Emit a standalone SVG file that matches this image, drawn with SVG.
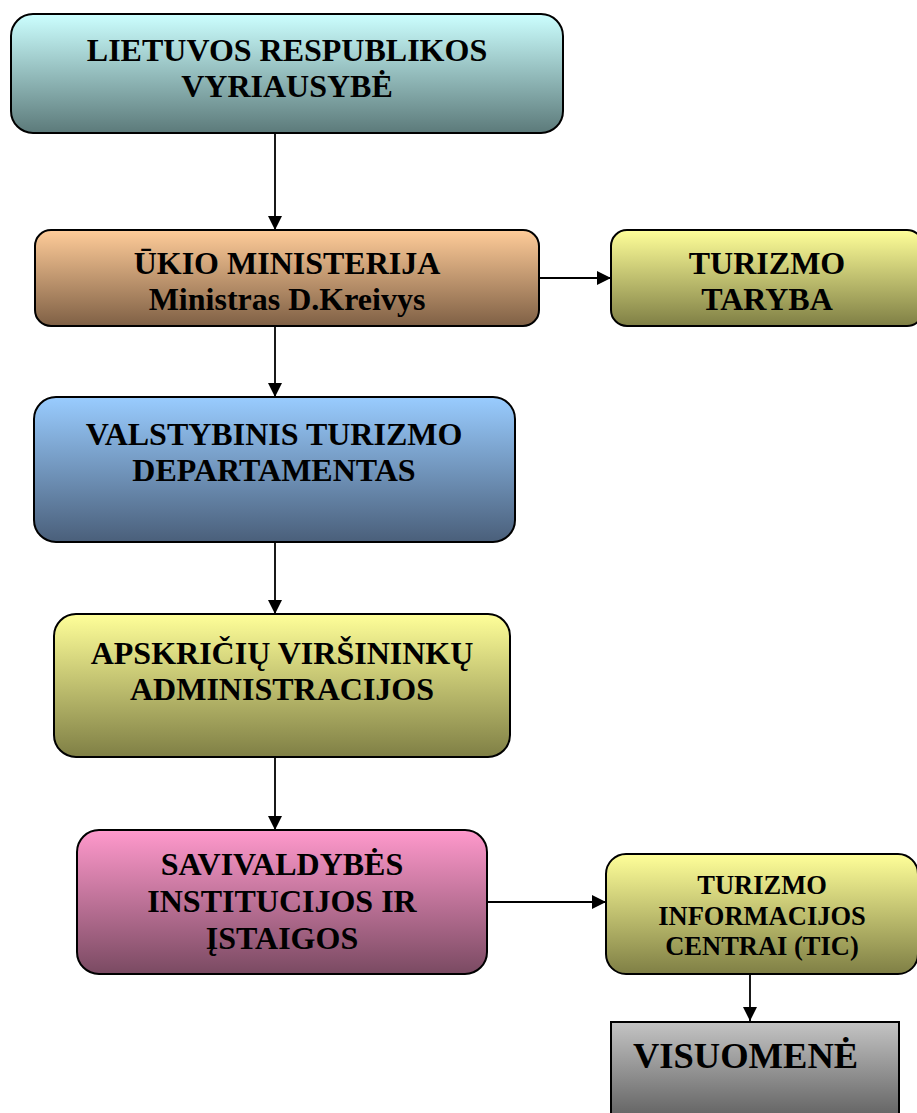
<svg xmlns="http://www.w3.org/2000/svg" width="917" height="1113" viewBox="0 0 917 1113">
<defs>
<linearGradient id="gCyan" x1="0" y1="0" x2="0" y2="1"><stop offset="0" stop-color="#CCFFFF"/><stop offset="1" stop-color="#5C7A7A"/></linearGradient>
<linearGradient id="gOrange" x1="0" y1="0" x2="0" y2="1"><stop offset="0" stop-color="#FFCC99"/><stop offset="1" stop-color="#7F6045"/></linearGradient>
<linearGradient id="gYellow" x1="0" y1="0" x2="0" y2="1"><stop offset="0" stop-color="#FFFF99"/><stop offset="1" stop-color="#7F7F45"/></linearGradient>
<linearGradient id="gBlue" x1="0" y1="0" x2="0" y2="1"><stop offset="0" stop-color="#99CCFF"/><stop offset="1" stop-color="#4A5F7A"/></linearGradient>
<linearGradient id="gPink" x1="0" y1="0" x2="0" y2="1"><stop offset="0" stop-color="#FF99CC"/><stop offset="1" stop-color="#7A4A62"/></linearGradient>
<linearGradient id="gGray" x1="0" y1="0" x2="0" y2="1"><stop offset="0" stop-color="#C4C4C4"/><stop offset="1" stop-color="#5E5E5E"/></linearGradient>
<marker id="arr" viewBox="0 0 14 14" refX="14" refY="7" markerWidth="14" markerHeight="14" markerUnits="userSpaceOnUse" orient="auto"><path d="M0,0 L14,7 L0,14 Z" fill="#000"/></marker>
<style>
.box{stroke:#000;stroke-width:2}
.t{font-family:"Liberation Serif","Times New Roman",serif;font-weight:bold;font-size:32px;fill:#000;text-anchor:middle}
.s{font-size:26.5px}
.v{font-size:36.5px;text-anchor:start}
.c{fill:none;stroke:#000;stroke-width:1.8;marker-end:url(#arr)}
</style>
</defs>
<g id="connectors">
<line class="c" x1="275" y1="134" x2="275" y2="230"/>
<line class="c" x1="539" y1="278" x2="611" y2="278"/>
<line class="c" x1="275" y1="327" x2="275" y2="397"/>
<line class="c" x1="275" y1="543" x2="275" y2="614"/>
<line class="c" x1="275" y1="757" x2="275" y2="830"/>
<line class="c" x1="487" y1="902" x2="606" y2="902"/>
<line class="c" x1="750" y1="974" x2="750" y2="1021"/>
</g>
<g id="vyriausybe">
<rect class="box" x="11" y="14" width="552" height="119" rx="22" fill="url(#gCyan)"/>
<text class="t" x="287" y="61">LIETUVOS RESPUBLIKOS</text>
<text class="t" x="287" y="97">VYRIAUSYBĖ</text>
</g>
<g id="ukio">
<rect class="box" x="35" y="230" width="504" height="96" rx="16" fill="url(#gOrange)"/>
<text class="t" x="287" y="274">ŪKIO MINISTERIJA</text>
<text class="t" x="287" y="310">Ministras D.Kreivys</text>
</g>
<g id="taryba">
<rect class="box" x="611" y="230" width="312" height="96" rx="16" fill="url(#gYellow)"/>
<text class="t" x="767" y="274">TURIZMO</text>
<text class="t" x="767" y="310">TARYBA</text>
</g>
<g id="departamentas">
<rect class="box" x="34" y="397" width="481" height="145" rx="22" fill="url(#gBlue)"/>
<text class="t" x="274" y="445">VALSTYBINIS TURIZMO</text>
<text class="t" x="274" y="481">DEPARTAMENTAS</text>
</g>
<g id="apskriciu">
<rect class="box" x="54" y="614" width="456" height="143" rx="22" fill="url(#gYellow)"/>
<text class="t" x="282" y="664">APSKRIČIŲ VIRŠININKŲ</text>
<text class="t" x="282" y="700">ADMINISTRACIJOS</text>
</g>
<g id="savivaldybes">
<rect class="box" x="77" y="830" width="410" height="144" rx="22" fill="url(#gPink)"/>
<text class="t" x="282" y="875">SAVIVALDYBĖS</text>
<text class="t" x="282" y="912">INSTITUCIJOS IR</text>
<text class="t" x="282" y="949">ĮSTAIGOS</text>
</g>
<g id="tic">
<rect class="box" x="606" y="854" width="312" height="120" rx="20" fill="url(#gYellow)"/>
<text class="t s" x="762" y="894">TURIZMO</text>
<text class="t s" x="762" y="925">INFORMACIJOS</text>
<text class="t s" x="762" y="955">CENTRAI (TIC)</text>
</g>
<g id="visuomene">
<rect class="box" x="611" y="1022" width="288" height="100" fill="url(#gGray)"/>
<text class="t v" x="633" y="1068">VISUOMENĖ</text>
</g>
</svg>
